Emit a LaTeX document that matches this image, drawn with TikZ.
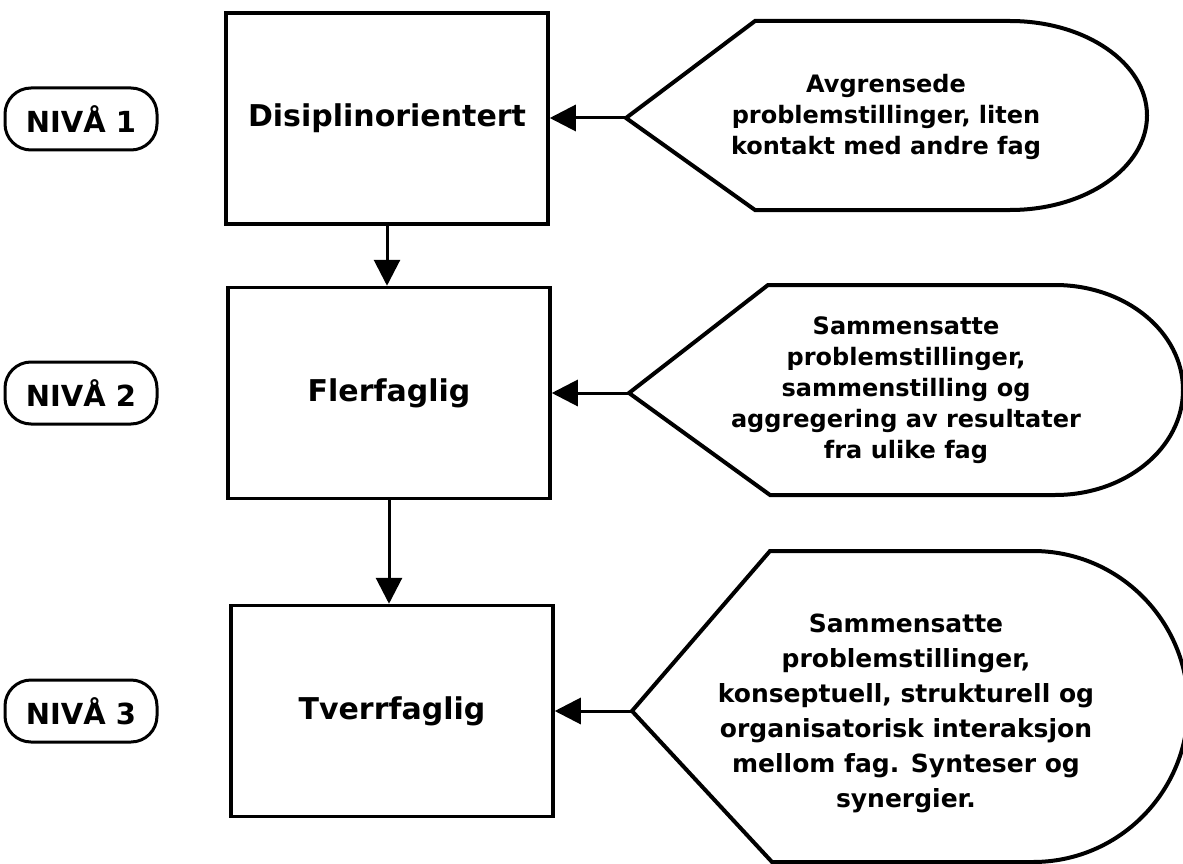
\documentclass[tikz,border=0pt]{standalone}
\usepackage{fontspec}
\setmainfont{DejaVu Sans}
\usetikzlibrary{arrows.meta}
\begin{document}
\begin{tikzpicture}[x=1pt,y=-1pt,
  box/.style={draw,line width=3.5pt,minimum width=322pt,minimum height=211pt,font=\fontsize{30}{36}\selectfont\bfseries,inner sep=0pt},
  lvl/.style={draw,line width=3pt,rounded corners=26pt,minimum width=152pt,minimum height=62pt,font=\fontsize{29}{34}\selectfont\bfseries,inner sep=0pt},
  disp/.style={draw,line width=4pt,line join=miter},
  dtext/.style={align=center,font=\fontsize{24}{31}\selectfont\bfseries},
  arr/.style={line width=3pt,-{Triangle[length=26pt,width=26pt]}}]
\useasboundingbox (0,0) rectangle (1183,864);

% level labels
\node[lvl] (n1) at (81,119) {NIVÅ 1};
\node[lvl] (n2) at (81,393) {NIVÅ 2};
\node[lvl] (n3) at (81,711) {NIVÅ 3};

% boxes
\node[box] (b1) at (387,118.5) {Disiplinorientert};
\node[box] (b2) at (389,393) {Flerfaglig};
\node[box] (b3) at (392,711) {Tverrfaglig};

% display shapes
\coordinate (t1) at (626,118);
\draw[disp] (t1) -- (755,21) -- (1010,21) arc[start angle=90,end angle=-90,x radius=137pt,y radius=94.5pt] -- (755,210) -- cycle;
\node[dtext] (d1) at (886,117) {Avgrensede\\problemstillinger, liten\\kontakt med andre fag};

\coordinate (t2) at (629,393);
\draw[disp] (t2) -- (768,285) -- (1055,285) arc[start angle=90,end angle=-90,x radius=128pt,y radius=105pt] -- (770,495) -- cycle;
\node[dtext] (d2) at (906,390) {Sammensatte\\problemstillinger,\\sammenstilling og\\aggregering av resultater\\fra ulike fag};

\coordinate (t3) at (632,711);
\draw[disp] (t3) -- (770,551) -- (1033,551) arc[start angle=90,end angle=-90,x radius=155pt,y radius=155.5pt] -- (772,862) -- cycle;
\node[dtext,font=\fontsize{25}{35}\selectfont\bfseries] (d3) at (906,713) {Sammensatte\\problemstillinger,\\konseptuell, strukturell og\\organisatorisk interaksjon\\mellom fag. Synteser og\\synergier.};

% connectors
\draw[arr] (t1) -- (t1 -| b1.east);
\draw[arr] (t2) -- (t2 -| b2.east);
\draw[arr] (t3) -- (t3 -| b3.east);
\draw[arr] (b1.south) -- (b1.south |- b2.north);
\draw[arr] (b2.south) -- (b2.south |- b3.north);
\end{tikzpicture}
\end{document}
